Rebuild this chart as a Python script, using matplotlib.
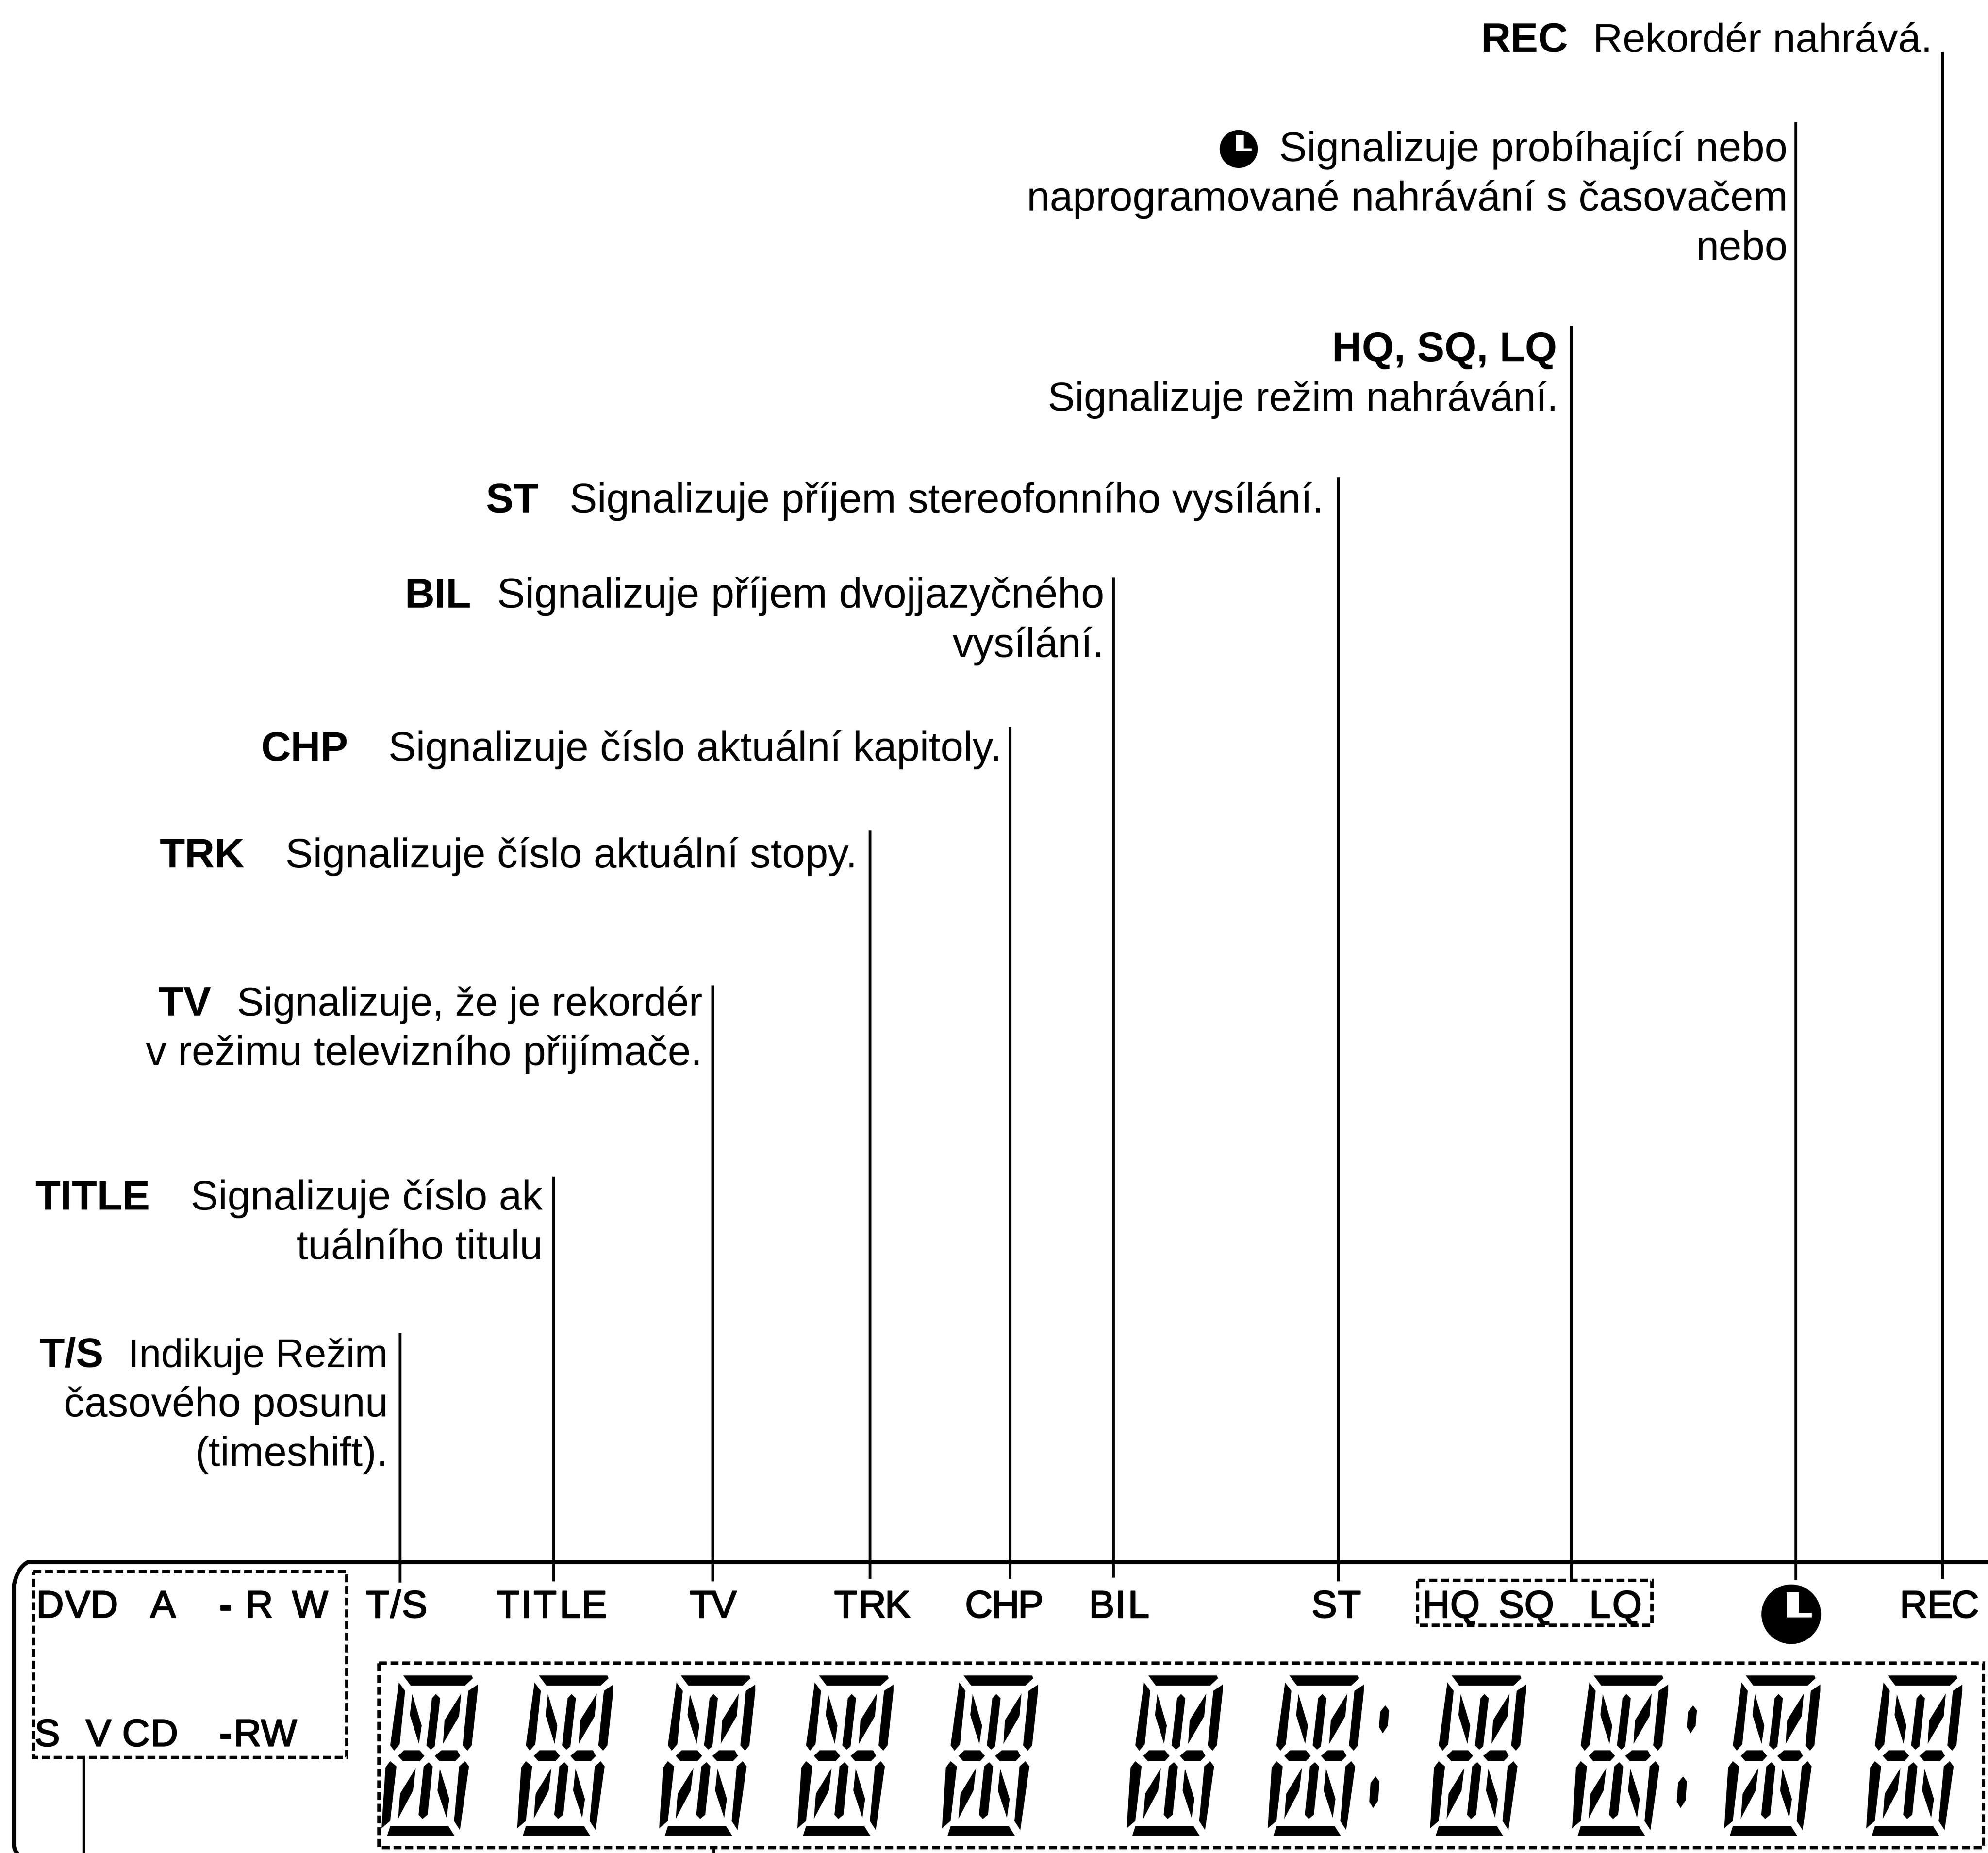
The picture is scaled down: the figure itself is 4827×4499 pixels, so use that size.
import matplotlib
matplotlib.use("Agg")
import matplotlib.pyplot as plt
import matplotlib.patheffects as pe
from matplotlib.patches import Polygon, Circle, Rectangle, PathPatch
from matplotlib.path import Path

W, H = 1568, 1461.4   # drawing units, 1 unit = 3.0785 px in the output
PT = 0.739            # points per drawing unit at dpi 300

# leader lines: x, top, bottom
leader_x = [315.5, 436.5, 562, 686, 796.5, 878, 1055.5, 1239.2, 1416.4, 1531.8]
leader_top = [1051, 928, 777, 655, 573, 455, 376, 257, 96, 41]
leader_bottom = [1248, 1247, 1247, 1245, 1245, 1244, 1247, 1246, 1246, 1245]

# captions: bold word, x of bold word, regular lines, right edge, first baseline
caption_bold = ["REC", "", "HQ, SQ, LQ", "ST", "BIL", "CHP", "TRK", "TV", "TITLE", "T/S"]
caption_bold_x = [1168, None, None, 383, 319, 206, 126, 125, 28, 31]
caption_lines = [
    ["Rekordér nahrává."],
    ["Signalizuje probíhající nebo", "naprogramované nahrávání s časovačem", "nebo"],
    ["", "Signalizuje režim nahrávání."],
    ["Signalizuje příjem stereofonního vysílání."],
    ["Signalizuje příjem dvojjazyčného", "vysílání."],
    ["Signalizuje číslo aktuální kapitoly."],
    ["Signalizuje číslo aktuální stopy."],
    ["Signalizuje, že je rekordér", "v režimu televizního přijímače."],
    ["Signalizuje číslo ak", "tuálního titulu"],
    ["Indikuje Režim", "časového posunu", "(timeshift)."],
]
caption_right = [1524, 1410, 1229, 1044, 871, 790, 676, 554, 428, 306]
caption_base = [41, 127, 285, 404, 479, 600, 684, 801, 954, 1078]
LINE_STEP = 39
# lines that run a bit tighter or looser than the rest in the source
line_scale = {"Signalizuje režim nahrávání.": 0.983, "Signalizuje, že je rekordér": 0.979,
              "Indikuje Režim": 0.958, "Signalizuje příjem dvojjazyčného": 1.013,
              "Rekordér nahrává.": 0.99}

# panel letters: character, centre x
panel_top = 1275.6
panel_low = 1377
panel_chars = [
    ("D", 39.5), ("V", 61.2), ("D", 82.3), ("A", 128.6), ("-", 177.8), ("R", 204.5), ("W", 244.6),
    ("T", 297.7), ("/", 312), ("S", 327),
    ("T", 400.6), ("I", 414.9), ("T", 429.8), ("L", 449.7), ("E", 468.6),
    ("T", 553), ("V", 571),
    ("T", 667), ("R", 688), ("K", 708),
    ("C", 772), ("H", 793), ("P", 813),
    ("B", 869), ("I", 883.7), ("L", 898),
    ("S", 1044.5), ("T", 1064.3),
    ("H", 1132.6), ("Q", 1155.5), ("S", 1192), ("Q", 1214), ("L", 1261.7), ("Q", 1283.3),
    ("R", 1509.3), ("E", 1530), ("C", 1550),
]
panel_chars_low = [("S", 37.3), ("V", 77.7), ("C", 107.2), ("D", 129.6),
                   ("-", 177.8), ("R", 195.2), ("W", 220)]

# dashed boxes: x0, y0, x1, y1
boxes = [(26.4, 1239.6, 273.5, 1386.2), (299, 1311.5, 1564.4, 1457.2), (1118, 1246.3, 1303, 1281.7)]

# left edge of the top bar for each display digit
digit_x = [318, 425, 537, 646, 760, 905.7, 1017, 1145, 1257, 1377, 1489]
colon_x = [1091.6, 1334.4]
colon_low_x = [1084, 1326.5]

# one 16-segment digit, measured on the first digit of the panel
SX, SY = 3.218, 6.04
Y0 = 1201.9
segments = [
    [(1023, 722), (1197, 722), (1200, 735), (1180, 770), (1042, 770)],
    [(1012, 755), (1028, 795), (1014, 1050), (1000, 1080), (990, 1055)],
    [(1212, 765), (1212, 795), (1197, 1055), (1186, 1080), (1174, 1055), (1188, 795)],
    [(1046, 810), (1070, 960), (1063, 1048), (1040, 910)],
    [(1106, 810), (1117, 830), (1103, 1060), (1093, 1075), (1082, 1055), (1096, 830)],
    [(1170, 808), (1165, 915), (1124, 1048), (1128, 935)],
    [(1025, 1078), (1065, 1078), (1077, 1105), (1065, 1130), (1022, 1130), (1010, 1105)],
    [(1120, 1078), (1160, 1078), (1168, 1105), (1155, 1130), (1115, 1130), (1103, 1105)],
    [(990, 1130), (1006, 1155), (990, 1415), (968, 1450), (978, 1160)],
    [(1055, 1162), (1048, 1270), (1010, 1405), (1015, 1285)],
    [(1088, 1135), (1098, 1155), (1085, 1385), (1072, 1405), (1062, 1385), (1075, 1155)],
    [(1116, 1165), (1140, 1310), (1133, 1400), (1110, 1270)],
    [(1180, 1130), (1190, 1155), (1170, 1420), (1167, 1458), (1152, 1415), (1165, 1155)],
    [(990, 1440), (1138, 1440), (1154, 1487), (982, 1487)],
]

body_font = "Liberation Sans"
BODY_SIZE = 32.6 * PT

fig = plt.figure(figsize=(4827 / 300, 4499 / 300), dpi=300)
ax = fig.add_axes([0, 0, 1, 1])
ax.set_xlim(0, W)
ax.set_ylim(H, 0)
ax.axis("off")

# outer panel frame
frame = Path([(W, 1232), (22, 1232), (14, 1236), (11, 1250), (11, 1455), (11, 1459), (14, 1462)],
             [Path.MOVETO, Path.LINETO, Path.CURVE3, Path.CURVE3, Path.LINETO, Path.CURVE3, Path.CURVE3])
ax.add_patch(PathPatch(frame, fill=False, lw=3.2 * PT, ec="black"))

for x, t, b in zip(leader_x, leader_top, leader_bottom):
    ax.plot([x, x], [t, b], color="black", lw=2.2 * PT, solid_capstyle="butt")
ax.plot([65.9, 65.9], [1386, H], color="black", lw=2.2 * PT, solid_capstyle="butt")
ax.plot([563, 563], [1457, H], color="black", lw=2.2 * PT, solid_capstyle="butt")

for x0, y0, x1, y1 in boxes:
    ax.add_patch(Rectangle((x0, y0), x1 - x0, y1 - y0, fill=False, ec="black", lw=2.6 * PT,
                           linestyle=(0, (2.4, 1.15)), capstyle="butt"))

# display digits
for dx in digit_x:
    off = dx - 1023 / SX
    for seg in segments:
        pts = [(x / SX + off, Y0 + y / SY) for x, y in seg]
        ax.add_patch(Polygon(pts, closed=True, fc="black", ec="none"))

for cx, cy, half in [(c, 1356, 11) for c in colon_x] + [(c, 1413.5, 12.5) for c in colon_low_x]:
    ax.add_patch(Polygon([(cx + 1, cy - half), (cx + 4, cy - half + 4), (cx + 3, cy + half - 6),
                          (cx - 1, cy + half), (cx - 4, cy + half - 5), (cx - 3, cy - half + 5)],
                         closed=True, fc="black", ec="none"))


def clock(cx, cy, r):
    # filled disc with the white L inside
    k = r / 23.5
    ax.add_patch(Circle((cx, cy), r, fc="black", ec="none"))
    ax.add_patch(Polygon([(cx - 3.5 * k, cy - 17.4 * k), (cx + 6.2 * k, cy - 17.4 * k), (cx + 6.2 * k, cy - 1 * k),
                          (cx + 16.2 * k, cy - 1 * k), (cx + 16.2 * k, cy + 2.5 * k), (cx - 3.5 * k, cy + 2.5 * k)],
                         closed=True, fc="white", ec="none"))


clock(1412.8, 1273.1, 23.5)
clock(977, 117.5, 15)

# captions
for bold, bx, lines, right, base in zip(caption_bold, caption_bold_x, caption_lines, caption_right, caption_base):
    for i, line in enumerate(lines):
        if line:
            ax.text(right, base + i * LINE_STEP, line, ha="right", va="baseline", family=body_font,
                    fontsize=BODY_SIZE * line_scale.get(line, 1), color="black")
    if bold:
        if bx is None:
            ax.text(right - 1, base, bold, ha="right", va="baseline", family=body_font,
                    fontweight="bold", fontsize=BODY_SIZE, color="black")
        else:
            ax.text(bx, base, bold, ha="left", va="baseline", family=body_font,
                    fontweight="bold", fontsize=BODY_SIZE, color="black")

# panel lettering, thickened a little with a stroke
thick = [pe.withStroke(linewidth=0.9 * PT, foreground="black")]
for row, y in [(panel_chars, panel_top), (panel_chars_low, panel_low)]:
    for ch, x in row:
        ax.text(x, y, ch, ha="center", va="baseline", family=body_font, fontsize=30 * PT,
                color="black", fontweight="bold" if ch == "-" else "normal", path_effects=thick)

fig.savefig("out.png", dpi=300, facecolor="white")
